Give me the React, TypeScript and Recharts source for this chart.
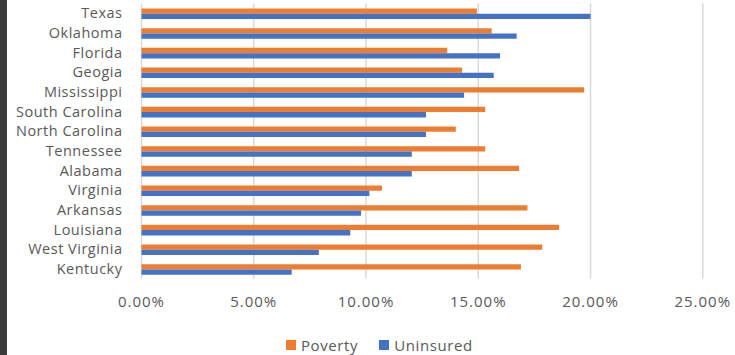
import React from 'react';
import { BarChart, Bar, XAxis, YAxis, CartesianGrid } from 'recharts';

const categories = ['Texas', 'Oklahoma', 'Florida', 'Geogia', 'Mississippi', 'South Carolina', 'North Carolina', 'Tennessee', 'Alabama', 'Virginia', 'Arkansas', 'Louisiana', 'West Virginia', 'Kentucky'];
const poverty = [0.1494, 0.156, 0.1362, 0.1428, 0.1972, 0.1531, 0.14, 0.1531, 0.1682, 0.1071, 0.1719, 0.186, 0.1785, 0.169];
const uninsured = [0.2, 0.1671, 0.1597, 0.1569, 0.1437, 0.1267, 0.1267, 0.1204, 0.1204, 0.1015, 0.0978, 0.093, 0.079, 0.0669];
const xTicks = [0, 0.05, 0.1, 0.15, 0.2, 0.25];
const seriesNames = ['Poverty', 'Uninsured'];
const seriesColors = ['#ED7D31', '#4472C4'];

const data = categories.map((name, i) => ({ name, Poverty: poverty[i], Uninsured: uninsured[i] }));

const textColor = '#595959';
const font = '"Open Sans", sans-serif';

export default function App() {
  return (
    <div style={{ position: 'fixed', left: 0, top: 0, width: 735, height: 355, background: '#fff', overflow: 'hidden' }}>
      <div style={{ position: 'absolute', left: 0, top: 0, width: 7, height: 355, background: '#3b3b3b' }} />
      <div style={{ position: 'absolute', left: 0, top: 0 }}>
        <BarChart
          width={735}
          height={355}
          data={data}
          layout="vertical"
          margin={{ top: 3.5, right: 32.25, bottom: 46, left: 0 }}
          barSize={5.3}
          barGap={0}
        >
          <CartesianGrid horizontal={false} stroke="#d9d9d9" strokeWidth={1.5} />
          <XAxis
            type="number"
            domain={[0, 0.25]}
            ticks={xTicks}
            tickFormatter={(v: number) => (v * 100).toFixed(2) + '%'}
            axisLine={false}
            tickLine={false}
            tickSize={0}
            tickMargin={18}
            height={30.2}
            tick={{ fill: textColor, fontSize: 15, fontFamily: font, letterSpacing: 1 }}
          />
          <YAxis
            type="category"
            dataKey="name"
            width={141.5}
            axisLine={false}
            tickLine={false}
            tickSize={0}
            tickMargin={19}
            interval={0}
            tick={{ fill: textColor, fontSize: 14.5, fontFamily: font, letterSpacing: 0.5 }}
          />
          {seriesNames.map((s, i) => (
            <Bar key={s} dataKey={s} fill={seriesColors[i]} isAnimationActive={false} />
          ))}
        </BarChart>
      </div>
      <div style={{ position: 'absolute', left: 286, top: 335, display: 'flex', alignItems: 'center', fontFamily: font, fontSize: 15, color: textColor, letterSpacing: 0.6 }}>
        {seriesNames.map((s, i) => (
          <div key={s} style={{ display: 'flex', alignItems: 'center', marginRight: 21 }}>
            <span style={{ display: 'inline-block', width: 10, height: 10, background: seriesColors[i], marginRight: 5 }} />
            <span>{s}</span>
          </div>
        ))}
      </div>
    </div>
  );
}
